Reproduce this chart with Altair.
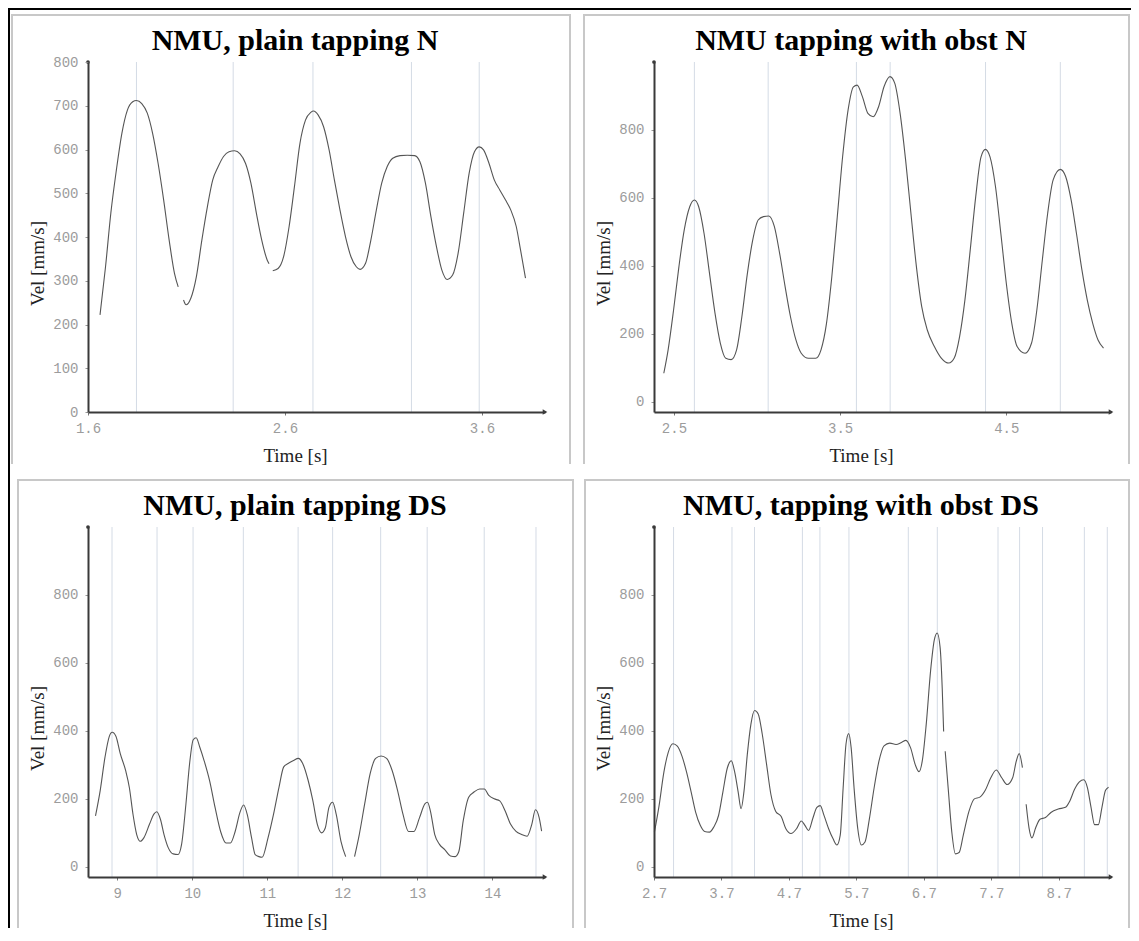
import altair as alt
import pandas as pd

# ---------------- data ----------------
p1_t = [1.661, 1.689, 1.716, 1.744, 1.772, 1.800, 1.827, 1.846, 1.873, 1.901, 1.928, 1.956, 1.984, 2.012, 2.039, 2.058,
        2.085, 2.098, 2.122, 2.150, 2.178, 2.206, 2.233, 2.261, 2.288, 2.316, 2.344, 2.372, 2.400, 2.427, 2.455, 2.482, 2.510, 2.519,
        2.538, 2.565, 2.593, 2.621, 2.648, 2.676, 2.704, 2.731, 2.745, 2.768, 2.796, 2.824, 2.851, 2.879, 2.907, 2.935, 2.962, 2.981,
        3.009, 3.036, 3.064, 3.091, 3.119, 3.147, 3.184, 3.221, 3.258, 3.285, 3.313, 3.341, 3.369, 3.396, 3.424, 3.451, 3.479, 3.507,
        3.535, 3.562, 3.586, 3.608, 3.636, 3.663, 3.691, 3.719, 3.746, 3.774, 3.796, 3.821]
p1_v = [222, 332, 455, 553, 637, 690, 709, 712, 705, 683, 637, 568, 485, 393, 317, 286,
        256, 245, 260, 309, 393, 469, 530, 561, 584, 595, 597, 590, 568, 523, 454, 393, 347, 339,
        323, 328, 355, 424, 515, 614, 667, 685, 688, 679, 652, 599, 530, 462, 401, 355, 332, 326,
        340, 393, 462, 523, 561, 580, 586, 587, 586, 572, 523, 446, 378, 325, 303, 313, 363, 454,
        546, 595, 606, 599, 568, 530, 507, 485, 462, 424, 370, 306]
p1_breaks = [2.07, 2.528]
p1_grid = [1.846, 2.337, 2.742, 3.242, 3.586]

p2_t = [2.439, 2.465, 2.498, 2.530, 2.562, 2.595, 2.623, 2.649, 2.681, 2.714, 2.747, 2.779, 2.812, 2.844, 2.877, 2.909,
        2.942, 2.974, 3.007, 3.039, 3.071, 3.104, 3.136, 3.169, 3.201, 3.234, 3.266, 3.310, 3.353, 3.385, 3.418, 3.450,
        3.483, 3.515, 3.548, 3.580, 3.602, 3.634, 3.667, 3.699, 3.732, 3.764, 3.800, 3.829, 3.861, 3.894, 3.926, 3.959,
        3.991, 4.024, 4.067, 4.110, 4.154, 4.186, 4.219, 4.251, 4.283, 4.316, 4.348, 4.374, 4.402, 4.435, 4.467, 4.500,
        4.533, 4.565, 4.613, 4.652, 4.684, 4.717, 4.749, 4.782, 4.825, 4.857, 4.890, 4.922, 4.955, 4.987, 5.020, 5.052, 5.085]
p2_v = [84, 153, 271, 398, 506, 574, 594, 574, 496, 378, 261, 173, 128, 124, 153, 251,
        378, 476, 535, 545, 547, 516, 437, 339, 251, 182, 143, 128, 128, 153, 231, 368,
        545, 721, 859, 927, 932, 898, 849, 839, 869, 927, 957, 937, 849, 712, 555, 398,
        280, 212, 163, 128, 114, 128, 192, 300, 447, 604, 721, 743, 721, 633, 496, 349,
        231, 163, 143, 173, 271, 418, 555, 653, 684, 663, 594, 496, 388, 300, 231, 182, 158]
p2_breaks = []
p2_grid = [2.623, 3.067, 3.598, 3.801, 4.375, 4.825]

p3_t = [8.710, 8.773, 8.836, 8.894, 8.933, 8.982, 9.040, 9.113, 9.162, 9.210, 9.259, 9.307, 9.356, 9.429, 9.488, 9.526,
        9.575, 9.623, 9.682, 9.745, 9.809, 9.857, 9.915, 9.964, 10.012, 10.051, 10.100, 10.158, 10.231, 10.304, 10.377,
        10.450, 10.508, 10.571, 10.635, 10.683, 10.732, 10.790, 10.838, 10.888, 10.930, 11.009, 11.082, 11.155, 11.218,
        11.277, 11.349, 11.413, 11.471, 11.544, 11.607, 11.666, 11.723, 11.773, 11.821, 11.870, 11.918, 11.981, 12.044,
        12.162, 12.225, 12.297, 12.370, 12.443, 12.516, 12.589, 12.662, 12.735, 12.808, 12.881, 12.953, 13.027, 13.099,
        13.134, 13.173, 13.231, 13.294, 13.367, 13.440, 13.503, 13.552, 13.610, 13.683, 13.755, 13.829, 13.892, 13.951,
        14.023, 14.097, 14.168, 14.242, 14.314, 14.388, 14.461, 14.524, 14.572, 14.622, 14.655]
p3_v = [150, 225, 322, 384, 396, 384, 333, 282, 232, 154, 95, 75, 86, 125, 155, 162,
        140, 95, 55, 38, 36, 66, 185, 304, 374, 380, 352, 312, 253, 174,
        104, 70, 70, 104, 160, 182, 154, 85, 36, 30, 28, 85, 154, 234, 294,
        304, 313, 319, 304, 254, 194, 125, 100, 115, 175, 190, 154, 75, 30,
        30, 95, 185, 274, 319, 326, 319, 284, 225, 154, 104, 104, 144, 185,
        190, 164, 95, 66, 50, 32, 30, 45, 135, 205, 220, 229, 229, 210,
        200, 194, 165, 125, 104, 95, 90, 125, 168, 145, 105]
p3_breaks = [12.1]
p3_grid = [8.93, 9.53, 10.01, 10.68, 11.41, 11.87, 12.51, 13.13, 13.89, 14.58]

p4_t = [2.706, 2.776, 2.846, 2.911, 2.981, 3.046, 3.116, 3.181, 3.251, 3.317, 3.386, 3.450, 3.522, 3.586, 3.657, 3.721,
        3.786, 3.846, 3.895, 3.948, 3.991, 4.034, 4.083, 4.137, 4.191, 4.245, 4.305, 4.370, 4.434, 4.505, 4.586, 4.655,
        4.731, 4.813, 4.883, 4.937, 4.991, 5.055, 5.115, 5.164, 5.219, 5.289, 5.353, 5.412, 5.461, 5.504, 5.547, 5.586,
        5.623, 5.666, 5.721, 5.774, 5.828, 5.893, 5.963, 6.034, 6.110, 6.196, 6.288, 6.369, 6.434, 6.504, 6.574, 6.629,
        6.676, 6.736, 6.801, 6.855, 6.898, 6.942, 6.973, 6.994,
        7.017, 7.061, 7.115, 7.168, 7.223, 7.287, 7.369, 7.449, 7.531, 7.611, 7.693, 7.774, 7.855, 7.936, 8.017, 8.072,
        8.114, 8.162,
        8.217, 8.260, 8.303, 8.357, 8.422, 8.503, 8.584, 8.693, 8.800, 8.865, 8.935, 9.006, 9.071, 9.125, 9.179, 9.232,
        9.287, 9.341, 9.394, 9.439]
p4_v = [102, 181, 278, 337, 362, 355, 325, 280, 220, 161, 122, 104, 102, 117, 151, 220,
        290, 312, 280, 220, 171, 222, 330, 420, 460, 450, 390, 300, 212, 163, 148, 112,
        98, 112, 135, 122, 107, 143, 175, 180, 152, 112, 83, 64, 93, 232, 362, 392, 350, 232,
        112, 64, 73, 141, 232, 310, 356, 364, 360, 366, 372, 350, 300, 280, 310, 420,
        578, 667, 688, 645, 525, 398,
        340, 232, 102, 38, 42, 95, 163, 200, 205, 225, 262, 285, 262, 242, 262, 312,
        333, 292,
        184, 114, 85, 114, 140, 145, 160, 170, 175, 194, 228, 250, 256, 233, 175, 124,
        124, 175, 225, 234]
p4_breaks = [7.005, 8.19]
p4_grid = [2.99, 3.856, 4.19, 4.90, 5.16, 5.59, 6.47, 6.90, 7.80, 8.12, 8.46, 9.08, 9.42]

titles = ["NMU, plain tapping N", "NMU tapping with obst N",
          "NMU, plain tapping DS", "NMU, tapping with obst DS"]
x_ticks = [[1.6, 2.6, 3.6], [2.5, 3.5, 4.5], [9, 10, 11, 12, 13, 14],
           [2.7, 3.7, 4.7, 5.7, 6.7, 7.7, 8.7]]
x_domains = [[1.6, 3.92], [2.38, 5.13], [8.61, 14.70], [2.7, 9.475]]
y_ticks = [[0, 100, 200, 300, 400, 500, 600, 700, 800], [0, 200, 400, 600, 800],
           [0, 200, 400, 600, 800], [0, 200, 400, 600, 800]]
y_domains = [[0, 800], [-30, 1000], [-30, 1000], [-30, 1000]]

# ---------------- styling ----------------
W, H = 457, 350
AXIS_COL = "#3a3a3a"
BOX_COL = "#c8c8c8"
GRID_COL = "#d4dbe5"
LINE_COL = "#555555"
ONE = pd.DataFrame({"k": [0]})


def seg_frame(ts, vs, breaks):
    seg = [sum(1 for b in breaks if t > b) for t in ts]
    return pd.DataFrame({"t": ts, "v": vs, "seg": seg})


def rect(x1, x2, y1, y2, color):
    return alt.Chart(ONE).mark_rect(color=color).encode(
        x=alt.value(x1), x2=alt.value(x2), y=alt.value(y1), y2=alt.value(y2))


def panel(i, ts, vs, breaks, grid, box, title_offset, extra=()):
    xfmt = "d" if i == 2 else ".1f"
    xenc = alt.X("t:Q", scale=alt.Scale(domain=x_domains[i], nice=False, zero=False),
                 axis=alt.Axis(values=x_ticks[i], format=xfmt, title="Time [s]", grid=False,
                               domainColor=AXIS_COL, domainWidth=2, tickColor="#777", tickSize=3,
                               labelFont="Liberation Mono", labelFontSize=14, labelColor="#9c9c9c",
                               labelPadding=6, labelFlush=False, labelOverlap=False,
                               titleFont="Liberation Serif", titleFontSize=19, titleFontWeight="normal",
                               titleColor="#222", titleX=207, titleY=49, titleBaseline="alphabetic",
                               zindex=1))
    yenc = alt.Y("v:Q", scale=alt.Scale(domain=y_domains[i], nice=False, zero=False),
                 axis=alt.Axis(values=y_ticks[i], title="Vel [mm/s]", grid=False,
                               domainColor=AXIS_COL, domainWidth=2, tickColor="#999", tickSize=3,
                               labelFont="Liberation Mono", labelFontSize=14, labelColor="#9c9c9c",
                               labelPadding=7, labelOverlap=False,
                               titleFont="Liberation Serif", titleFontSize=19, titleFontWeight="normal",
                               titleColor="#222", titleX=-45, titleY=201, titleBaseline="alphabetic",
                               zindex=1))
    df = seg_frame(ts, vs, breaks)
    grid_layer = alt.Chart(pd.DataFrame({"t": grid})).mark_rule(
        color=GRID_COL, strokeWidth=1).encode(x=xenc)
    line = alt.Chart(df).mark_line(interpolate="monotone", color=LINE_COL, strokeWidth=1.1).encode(
        x=xenc, y=yenc, detail="seg:N")
    x_end = pd.DataFrame({"t": [x_domains[i][1]], "v": [y_domains[i][0]]})
    y_end = pd.DataFrame({"t": [x_domains[i][0]], "v": [y_domains[i][1]]})
    arrow_x = alt.Chart(x_end).mark_point(shape="triangle-right", filled=True, size=28,
                                          color=AXIS_COL, opacity=1).encode(x=xenc, y=yenc)
    arrow_y = alt.Chart(y_end).mark_point(shape="circle", filled=True, size=14,
                                          color=AXIS_COL, opacity=1).encode(x=xenc, y=yenc)
    lx, rx, top, bottom = box
    deco = [rect(lx, lx + 2, top, bottom, BOX_COL),
            rect(rx, rx + 2, top, bottom, BOX_COL),
            rect(lx, rx + 2, top, top + 2, BOX_COL)]
    deco += list(extra)
    return alt.layer(*deco, grid_layer, line, arrow_x, arrow_y).properties(
        width=W, height=H,
        title=alt.TitleParams(titles[i], font="Liberation Serif", fontSize=30, fontWeight="bold",
                              color="black", anchor="middle", frame="group", dx=-21.5,
                              offset=title_offset, baseline="alphabetic"))


black = [rect(-80, 1043, -54, -52, "black"), rect(-80, -78, -54, 866, "black")]

c1 = panel(0, p1_t, p1_v, p1_breaks, p1_grid, (-77, 481, -48, 402), -72, extra=black)
c2 = panel(1, p2_t, p2_v, p2_breaks, p2_grid, (-71, 474, -48, 402), -66)
c3 = panel(2, p3_t, p3_v, p3_breaks, p3_grid, (-71, 484, -48, 401), -66)
c4 = panel(3, p4_t, p4_v, p4_breaks, p4_grid, (-70, 474, -48, 401), -66)

chart = alt.concat(c1, c2, c3, c4, columns=2, spacing={"row": 115, "column": 109},
                   bounds="flush").properties(padding=0).configure_view(stroke=None)

chart.save("out.html", embed_options={"renderer": "svg", "actions": False})
